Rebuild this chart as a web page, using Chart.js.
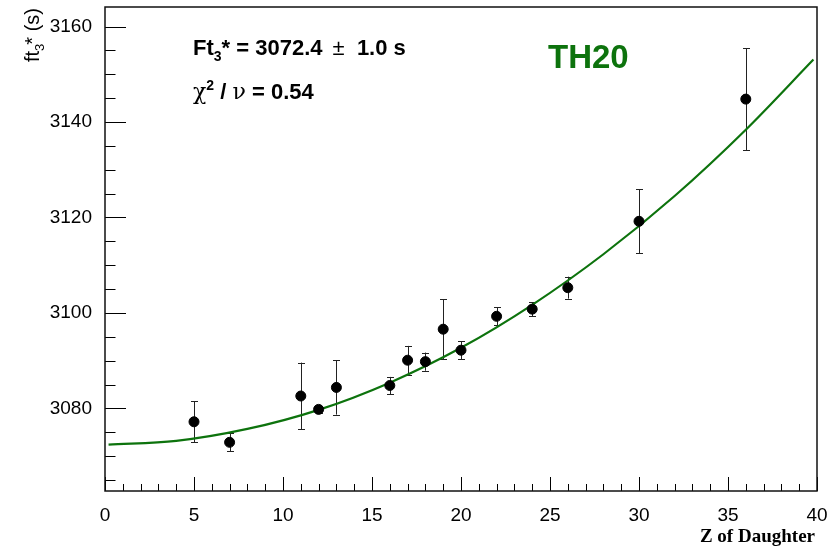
<!DOCTYPE html>
<html>
<head>
<meta charset="utf-8">
<script src="https://cdn.jsdelivr.net/npm/chart.js@4.4.1/dist/chart.umd.min.js"></script>
<style>
    html, body { margin: 0; padding: 0; background: #fff; }
</style>
</head>
<body>
<canvas id="ftChart" width="840" height="546"></canvas>
<script>
// measured points (Z of daughter, Ft value, error)
const zDaughter = [5, 7, 11, 12, 13, 16, 17, 18, 19, 20, 22, 24, 26, 30, 36];
const ftValues = [3077.2, 3072.9, 3082.6, 3079.8, 3084.4, 3084.8, 3090.1, 3089.8, 3096.6, 3092.2, 3099.3, 3100.8, 3105.3, 3119.2, 3144.8];
const ftErrors = [4.3, 1.9, 7.0, 0.8, 5.7, 1.8, 3.0, 1.9, 6.3, 1.9, 1.9, 1.45, 2.3, 6.7, 10.7];

// fit curve
const curveZ = [0.2, 4, 8, 12, 16, 20, 24, 28, 32, 36, 39.8];
const curveFt = [3072.4, 3073.2, 3075.7, 3079.7, 3085.4, 3092.7, 3101.7, 3112.3, 3124.5, 3138.4, 3153.1];

// axis ticks
const xTicks = [0, 5, 10, 15, 20, 25, 30, 35, 40];
const yTicks = [3080, 3100, 3120, 3140, 3160];

const fitGreen = "#0d730d";
const sans = "'Liberation Sans', Arial, Helvetica, sans-serif";

// draw a list of [text, font, dy, extra gap] pieces one after another
function drawPieces(ctx, x, y, pieces) {
    pieces.forEach(p => {
        ctx.font = p[1];
        ctx.fillText(p[0], x, y + (p[2] || 0));
        x += ctx.measureText(p[0]).width + (p[3] || 0);
    });
}

function piecesWidth(ctx, pieces) {
    let w = 0;
    pieces.forEach(p => { ctx.font = p[1]; w += ctx.measureText(p[0]).width + (p[3] || 0); });
    return w;
}

const rootStyle = {
    id: "rootStyle",
    beforeDatasetsDraw(chart) {
        // error bars under the markers
        const ctx = chart.ctx, xs = chart.scales.x, ys = chart.scales.y;
        ctx.save();
        ctx.strokeStyle = "#222";
        ctx.lineWidth = 1;
        zDaughter.forEach((z, i) => {
            const px = Math.round(xs.getPixelForValue(z)) + 0.5;
            const yTop = ys.getPixelForValue(ftValues[i] + ftErrors[i]);
            const yBot = ys.getPixelForValue(ftValues[i] - ftErrors[i]);
            ctx.beginPath();
            ctx.moveTo(px, yTop); ctx.lineTo(px, yBot);
            ctx.moveTo(px - 3.5, Math.round(yTop) + 0.5); ctx.lineTo(px + 3.5, Math.round(yTop) + 0.5);
            ctx.moveTo(px - 3.5, Math.round(yBot) + 0.5); ctx.lineTo(px + 3.5, Math.round(yBot) + 0.5);
            ctx.stroke();
        });
        ctx.restore();
    },
    afterDraw(chart) {
        const ctx = chart.ctx, xs = chart.scales.x, ys = chart.scales.y;
        const { left, right, top, bottom } = chart.chartArea;
        ctx.save();

        // ticks pointing into the frame
        ctx.strokeStyle = "#000";
        ctx.lineWidth = 1;
        ctx.beginPath();
        for (let v = 0; v <= 40; v += 1) {
            const px = Math.round(xs.getPixelForValue(v)) + 0.5;
            const len = xTicks.includes(v) ? 14 : 7;
            ctx.moveTo(px, bottom); ctx.lineTo(px, bottom - len);
        }
        for (let v = 3065; v <= 3160; v += 5) {
            const py = Math.round(ys.getPixelForValue(v)) + 0.5;
            const len = yTicks.includes(v) ? 21 : 10.5;
            ctx.moveTo(left, py); ctx.lineTo(left + len, py);
        }
        ctx.stroke();

        // frame
        ctx.lineWidth = 1.5;
        ctx.strokeStyle = "#111";
        ctx.strokeRect(left, top, right - left, bottom - top);

        ctx.fillStyle = "#000";
        ctx.textBaseline = "alphabetic";
        ctx.textAlign = "left";

        // x title
        ctx.font = "bold 19px 'Liberation Serif', 'Times New Roman', serif";
        ctx.textAlign = "right";
        ctx.fillText("Z of Daughter", 815, 542);
        ctx.textAlign = "left";

        // y title, rotated
        const yTitle = [
            ["ft", "20px " + sans],
            ["3", "13px " + sans, 5, -1],
            ["*", "20px " + sans],
            [" (s)", "20px " + sans]
        ];
        ctx.save();
        ctx.translate(39, 8);
        ctx.rotate(-Math.PI / 2);
        drawPieces(ctx, -piecesWidth(ctx, yTitle), 0, yTitle);
        ctx.restore();

        // fit result text
        const boldB = "bold 22px " + sans;
        drawPieces(ctx, 193, 55, [
            ["Ft", boldB],
            ["3", "bold 14px " + sans, 6],
            ["* = 3072.4 ", boldB, 0, 4],
            ["\u00b1", "22px " + sans],
            ["  1.0 s", boldB, 0, 4]
        ]);
        drawPieces(ctx, 193, 99, [
            ["\u03c7", "22px 'DejaVu Serif', serif"],
            ["2", "bold 14px " + sans, -9],
            [" / ", boldB],
            ["\u03bd", "22px 'DejaVu Serif', serif"],
            [" = 0.54", boldB]
        ]);

        ctx.fillStyle = fitGreen;
        ctx.font = "bold 33px " + sans;
        ctx.fillText("TH20", 548, 68);

        ctx.restore();
    }
};

const ctx = document.getElementById("ftChart").getContext("2d");

new Chart(ctx, {
    type: "scatter",
    data: {
        datasets: [
            {
                label: "data",
                data: zDaughter.map((z, i) => ({ x: z, y: ftValues[i] })),
                backgroundColor: "#000",
                borderColor: "#000",
                pointRadius: 5,
                pointHoverRadius: 5,
                order: 0
            },
            {
                label: "fit",
                data: curveZ.map((z, i) => ({ x: z, y: curveFt[i] })),
                showLine: true,
                borderColor: fitGreen,
                borderWidth: 2.2,
                pointRadius: 0,
                cubicInterpolationMode: "monotone",
                fill: false,
                order: 1
            }
        ]
    },
    options: {
        responsive: false,
        animation: false,
        layout: { padding: { top: 7, right: 23, left: 0, bottom: 0 } },
        plugins: {
            legend: { display: false },
            tooltip: { enabled: false }
        },
        scales: {
            x: {
                type: "linear",
                min: 0,
                max: 40,
                afterFit: s => { s.height = 55; s.paddingLeft = 0; s.paddingRight = 0; },
                afterBuildTicks: s => { s.ticks = xTicks.map(v => ({ value: v })); },
                grid: { display: false },
                border: { display: false },
                ticks: { padding: 5, color: "#000", maxRotation: 0, autoSkip: false, font: { family: sans, size: 19 }, callback: v => String(v) }
            },
            y: {
                type: "linear",
                min: 3062.7,
                max: 3164.1,
                afterFit: s => { s.width = 105; s.paddingTop = 0; s.paddingBottom = 0; },
                afterBuildTicks: s => { s.ticks = yTicks.map(v => ({ value: v })); },
                grid: { display: false },
                border: { display: false },
                ticks: { padding: 5, color: "#000", autoSkip: false, font: { family: sans, size: 19 }, callback: v => String(v) }
            }
        }
    },
    plugins: [rootStyle]
});
</script>
</body>
</html>
